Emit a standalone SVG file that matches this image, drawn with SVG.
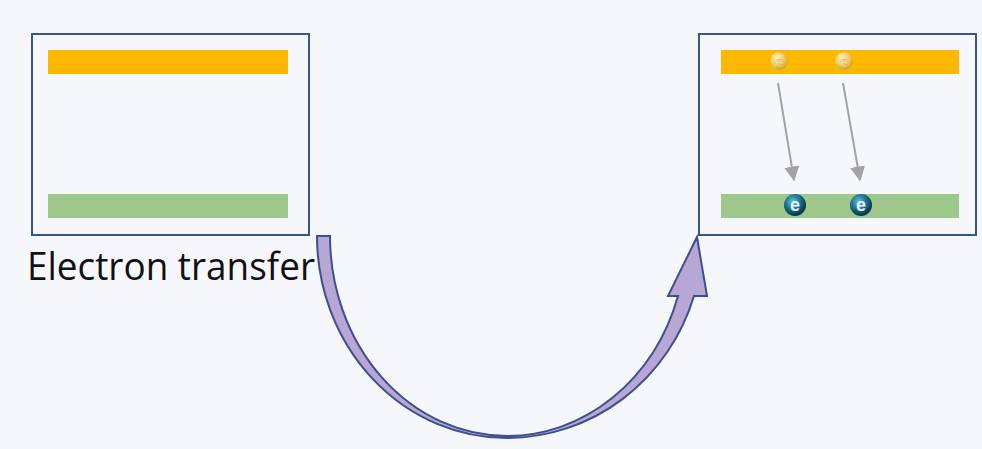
<svg xmlns="http://www.w3.org/2000/svg" width="982" height="449" viewBox="0 0 982 449">
  <defs>
    <style>
      .frame { fill: none; stroke: #3d5488; stroke-width: 2; }
      .cb { fill: #ffb800; }
      .vb { fill: #9dc78b; }
      .drop { stroke: #a3a3a3; stroke-width: 2; fill: none; marker-end: url(#grey-head); }
      .e-top { font-family: "Liberation Sans", Arial, sans-serif; font-size: 13px; fill: #fdf3c8; text-anchor: middle; font-weight: bold; stroke: #c99a1e; stroke-width: 0.4; }
      .e-bot { font-family: "Liberation Sans", Arial, sans-serif; font-size: 18px; fill: #e3f2f7; text-anchor: middle; font-weight: bold; }
      .label { font-family: "Open Sans", "Noto Sans", sans-serif; font-size: 38px; fill: #111111; }
    </style>
    <marker id="grey-head" viewBox="0 0 10 10" refX="9" refY="5" markerWidth="15" markerHeight="15" markerUnits="userSpaceOnUse" orient="auto">
      <path d="M0,0 L10,5 L0,10 Z" fill="#a3a3a3"/>
    </marker>
    <radialGradient id="gold" cx="40%" cy="35%" r="65%">
      <stop offset="0" stop-color="#fff6cc"/>
      <stop offset="0.6" stop-color="#f0cc5a"/>
      <stop offset="1" stop-color="#d4a226"/>
    </radialGradient>
    <radialGradient id="teal" cx="40%" cy="35%" r="65%">
      <stop offset="0" stop-color="#5fc3d6"/>
      <stop offset="0.55" stop-color="#1c6f8c"/>
      <stop offset="1" stop-color="#0a2f44"/>
    </radialGradient>
  </defs>

  <rect width="982" height="449" fill="#f6f7fb"/>

  <!-- initial state: empty bands -->
  <g id="state-before">
    <rect class="frame" x="32" y="34" width="277" height="201"/>
    <rect class="cb" x="48" y="50" width="240" height="24"/>
    <rect class="vb" x="48" y="194" width="240" height="24"/>
  </g>

  <g id="label-transfer">
    <text class="label" x="27" y="280" textLength="288" lengthAdjust="spacingAndGlyphs">Electron transfer</text>
  </g>

  <!-- final state: electrons moved down -->
  <g id="state-after">
    <rect class="frame" x="699" y="34" width="277" height="201"/>
    <rect class="cb" x="721" y="50" width="238" height="24"/>
    <rect class="vb" x="721" y="194" width="238" height="24"/>
    <g id="e-up-1">
      <circle cx="779" cy="61" r="9" fill="url(#gold)"/>
      <text class="e-top" x="779" y="65.5">e</text>
    </g>
    <g id="e-up-2">
      <circle cx="844" cy="61" r="9" fill="url(#gold)"/>
      <text class="e-top" x="844" y="65.5">e</text>
    </g>
    <g id="e-down-1">
      <circle cx="795" cy="205" r="11" fill="url(#teal)"/>
      <text class="e-bot" x="795" y="211">e</text>
    </g>
    <g id="e-down-2">
      <circle cx="861" cy="205" r="11" fill="url(#teal)"/>
      <text class="e-bot" x="861" y="211">e</text>
    </g>
  </g>

  <g id="connectors">
    <path id="curved-arrow" d="M317,236 A190,202 0 0 0 507,438 A196,202 0 0 0 694,296 L707,296 L697,237 L668,296 L678,296 A179,200 0 0 1 507,436 A177,200 0 0 1 330,236 Z" fill="#b6a7d4" stroke="#3d4f8c" stroke-width="2" stroke-linejoin="miter"/>
    <line class="drop" x1="778" y1="83" x2="794" y2="180"/>
    <line class="drop" x1="843" y1="83" x2="860" y2="180"/>
  </g>
</svg>
